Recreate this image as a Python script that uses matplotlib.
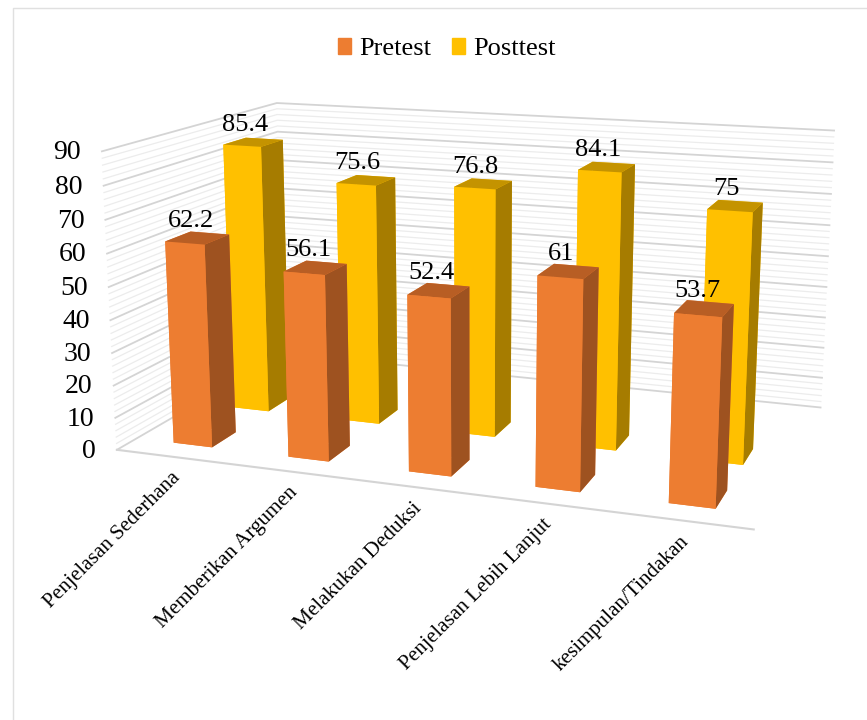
import numpy as np
import matplotlib
matplotlib.use('Agg')
import matplotlib.pyplot as plt
from matplotlib.patches import Patch
from mpl_toolkits.mplot3d import proj3d

plt.rcParams['font.family'] = ['Liberation Serif', 'DejaVu Serif']

categories = ['Penjelasan Sederhana', 'Memberikan Argumen', 'Melakukan Deduksi',
              'Penjelasan Lebih Lanjut', 'kesimpulan/Tindakan']
pretest = [62.2, 56.1, 52.4, 61, 53.7]
posttest = [85.4, 75.6, 76.8, 84.1, 75]
y_ticks = list(range(0, 100, 10))

W, H = 867, 720
fig = plt.figure(figsize=(W/100, H/100), dpi=100)
ax = fig.add_axes([89.9/W, 40.3/H, 764.7/W, 764.7/H], projection='3d')
ax.computed_zorder = False
ax.set_axis_off()
ax.set_xlim(0, 5)
ax.set_ylim(0, 2)
ax.set_zlim(0, 90)
ax.view_init(13.48, -70.54, -0.08)
ax.set_proj_type('persp', focal_length=0.42)
ax.set_box_aspect((1, 0.592, 0.47))

def place(x, y, z):
    vx, vy, _ = proj3d.proj_transform(x, y, z, ax.get_proj())
    return vx, vy

def label(txt, x, y, z, dx=0, dy=0, **kw):
    ax.annotate(txt, xy=place(x, y, z), xytext=(dx*100/72, dy*100/72), textcoords='offset pixels',
                annotation_clip=False, zorder=10, **kw)

# walls
for z in np.arange(0, 90.1, 2):
    major = z % 10 == 0
    col = '#d4d4d4' if major else '#ececec'
    lw = 1.3 if major else 0.9
    ax.plot([0, 0, 5], [0, 2, 2], [z, z, z], color=col, lw=lw, zorder=1.5 if major else 1)
ax.plot([0, 5], [0, 0], [0, 0], color='#d4d4d4', lw=1.5, zorder=1.5)

c_pre = ['#ED7D31', '#B85E24', '#ED7D31', '#ED7D31', '#ED7D31', '#9E5220']
c_post = ['#FFC000', '#C49300', '#FFC000', '#FFC000', '#FFC000', '#A67C00']
bw, bd = 0.34, 0.27
y_pre, y_post = 0.34, 1.01
for i in range(5):
    ax.bar3d(i+0.5-bw/2, y_post-bd/2, 0, bw, bd, posttest[i], color=c_post, shade=False, zorder=2+i*0.01)
for i in range(5):
    ax.bar3d(i+0.5-bw/2, y_pre-bd/2, 0, bw, bd, pretest[i], color=c_pre, shade=False, zorder=3+i*0.01)

for i in range(5):
    label(str(posttest[i]), i+0.5, y_post, posttest[i], dx=-6, dy=4.5, ha='center', va='bottom', fontsize=19)
    label(str(pretest[i]), i+0.5, y_pre, pretest[i], dx=-5, dy=4.5, ha='center', va='bottom', fontsize=19)
    label(categories[i], i+0.5, 0, 0, dx=-2, dy=-8.5, ha='right', va='top', rotation=45, rotation_mode='anchor', fontsize=15.2)
for t in y_ticks:
    label(str(t), 0, 0, t, dx=-15, dy=-1, ha='right', va='center', fontsize=20)

fig.legend(handles=[Patch(color='#ED7D31', label='Pretest'), Patch(color='#FFC000', label='Posttest')],
           loc='upper center', bbox_to_anchor=(0.5156, 0.98), ncol=2, frameon=False, fontsize=19,
           handlelength=0.49, handleheight=0.55, handletextpad=0.3, columnspacing=0.8)

fig.add_artist(plt.Line2D([13/W, 13/W, 1], [0, 1-8/H, 1-8/H], color='#e0e0e0', lw=1))
fig.savefig('out.png', dpi=100)
